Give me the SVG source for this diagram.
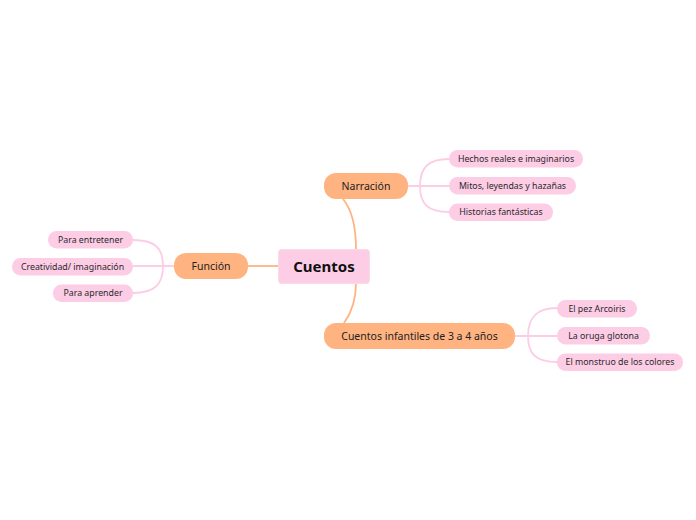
<svg xmlns="http://www.w3.org/2000/svg" width="696" height="520" viewBox="0 0 696 520">
<style>
text{font-family:"Noto Sans","Open Sans","DejaVu Sans",sans-serif;fill:#222;text-anchor:middle}
.main rect{fill:#ffb381}
.main text{font-size:10.5px}
.sub rect{fill:#fccde5}
.sub text{font-size:8.8px;fill:#2a2a2a}
.co{fill:none;stroke:#ffb381;stroke-width:1.8}
.cp{fill:none;stroke:#fccde5;stroke-width:1.8}
</style>
<rect width="696" height="520" fill="#fff"/>
<g id="connectors">
<path class="co" d="M356,249 C356,225 352,210 343,199"/>
<path class="co" d="M356,283 C356,300 352,312 344,323"/>
<path class="co" d="M248,266 H279"/>
<path class="cp" d="M408,186 H449 M420,186 C420,168 428,159 449,159 M420,186 C420,204 428,212 449,212"/>
<path class="cp" d="M174,266 H133 M163,266 C163,248 155,240 133,240 M163,266 C163,284 155,293 133,293"/>
<path class="cp" d="M515,336 H557 M528,336 C528,318 536,308 557,308 M528,336 C528,354 536,362 557,362"/>
</g>
<g id="central">
<rect x="278.5" y="249.5" width="91" height="34" rx="3" fill="#fccde5" stroke="#f7dbe9" stroke-width="1"/>
<text x="324" y="272" style="font-size:15px;font-weight:bold;fill:#111">Cuentos</text>
</g>
<g id="narracion" class="main">
<rect x="324" y="173" width="84" height="26" rx="12"/>
<text x="366" y="190">Narración</text>
</g>
<g id="funcion" class="main">
<rect x="174" y="253" width="74" height="26" rx="12"/>
<text x="211" y="270">Función</text>
</g>
<g id="infantiles" class="main">
<rect x="324" y="323" width="191" height="26" rx="12"/>
<text x="419.5" y="340">Cuentos infantiles de 3 a 4 años</text>
</g>
<g id="hechos" class="sub">
<rect x="449" y="150" width="134" height="17.5" rx="8.5"/>
<text x="516" y="161.9">Hechos reales e imaginarios</text>
</g>
<g id="mitos" class="sub">
<rect x="449" y="177" width="127" height="17.5" rx="8.5"/>
<text x="512.5" y="188.9">Mitos, leyendas y hazañas</text>
</g>
<g id="historias" class="sub">
<rect x="449" y="203.5" width="104" height="17.5" rx="8.5"/>
<text x="501" y="215.4">Historias fantásticas</text>
</g>
<g id="entretener" class="sub">
<rect x="48" y="231" width="85" height="17.5" rx="8.5"/>
<text x="90.5" y="242.9">Para entretener</text>
</g>
<g id="creatividad" class="sub">
<rect x="12" y="258" width="121" height="17.5" rx="8.5"/>
<text x="72.5" y="269.9">Creatividad/ imaginación</text>
</g>
<g id="aprender" class="sub">
<rect x="53" y="284.5" width="80" height="17.5" rx="8.5"/>
<text x="93" y="296.4">Para aprender</text>
</g>
<g id="pez" class="sub">
<rect x="557" y="300" width="80" height="17.5" rx="8.5"/>
<text x="597" y="311.9">El pez Arcoiris</text>
</g>
<g id="oruga" class="sub">
<rect x="557" y="327" width="93" height="17.5" rx="8.5"/>
<text x="603.5" y="338.9">La oruga glotona</text>
</g>
<g id="monstruo" class="sub">
<rect x="557" y="353.5" width="126" height="17.5" rx="8.5"/>
<text x="620" y="365.4">El monstruo de los colores</text>
</g>
</svg>
